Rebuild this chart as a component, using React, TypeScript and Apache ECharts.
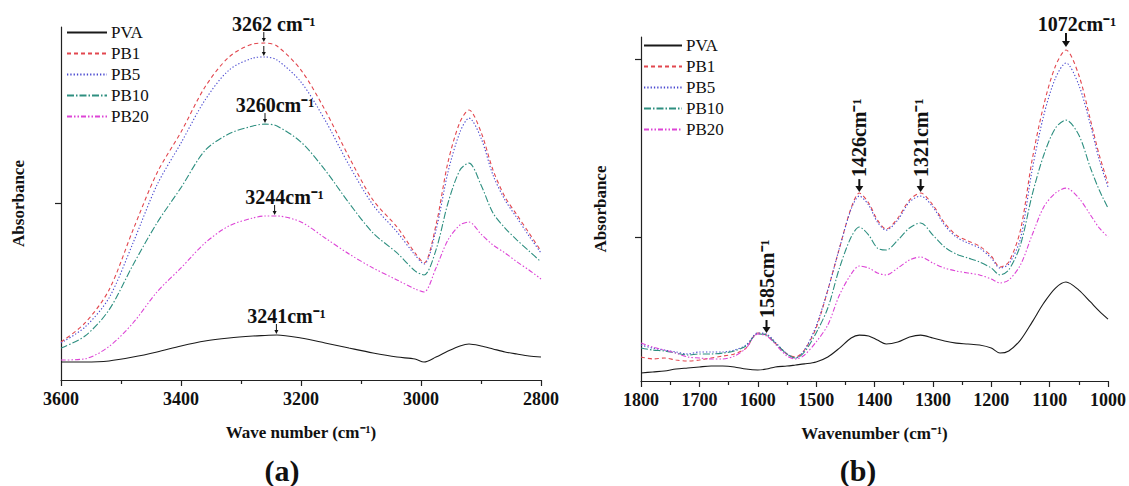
import React, { useEffect, useRef } from 'react';
import * as echarts from 'echarts';

const FONT = '"Liberation Serif", "Times New Roman", serif';

// ---------- data: panel (a) ----------
const seriesNames = ['PVA', 'PB1', 'PB5', 'PB10', 'PB20'];
const xTicksA = [3600, 3400, 3200, 3000, 2800];
const xTicksB = [1800, 1700, 1600, 1500, 1400, 1300, 1200, 1100, 1000];

const wavenumberA = [3600, 3560, 3520, 3480, 3440, 3400, 3360, 3320, 3280, 3260, 3240, 3200, 3160, 3120, 3080, 3040, 3010, 2995, 2975, 2955, 2935, 2920, 2900, 2880, 2860, 2840, 2820, 2800];
const pvaA = [0.102, 0.102, 0.108, 0.13, 0.159, 0.193, 0.221, 0.238, 0.249, 0.252, 0.255, 0.238, 0.21, 0.181, 0.153, 0.13, 0.119, 0.102, 0.13, 0.164, 0.193, 0.204, 0.193, 0.176, 0.159, 0.147, 0.136, 0.13];
const pb1A = [0.215, 0.323, 0.51, 0.85, 1.173, 1.405, 1.66, 1.83, 1.904, 1.909, 1.892, 1.756, 1.53, 1.263, 1.02, 0.867, 0.72, 0.663, 0.878, 1.235, 1.462, 1.53, 1.405, 1.19, 1.037, 0.935, 0.833, 0.731];
const pb5A = [0.21, 0.30, 0.465, 0.776, 1.105, 1.343, 1.586, 1.756, 1.824, 1.83, 1.813, 1.688, 1.473, 1.218, 0.992, 0.839, 0.708, 0.657, 0.85, 1.178, 1.405, 1.484, 1.371, 1.161, 1.02, 0.918, 0.816, 0.72];
const pb10A = [0.181, 0.249, 0.397, 0.652, 0.89, 1.09, 1.3, 1.395, 1.439, 1.45, 1.439, 1.348, 1.19, 1.003, 0.833, 0.72, 0.618, 0.595, 0.737, 1.003, 1.19, 1.229, 1.105, 0.946, 0.861, 0.793, 0.731, 0.669];
const pb20A = [0.113, 0.12, 0.19, 0.323, 0.499, 0.635, 0.776, 0.873, 0.918, 0.929, 0.929, 0.895, 0.805, 0.714, 0.635, 0.567, 0.516, 0.499, 0.635, 0.793, 0.878, 0.895, 0.827, 0.765, 0.72, 0.669, 0.623, 0.572];

// ---------- data: panel (b) ----------
const wavenumberB = [1800, 1780, 1760, 1740, 1720, 1700, 1680, 1660, 1640, 1620, 1600, 1585, 1570, 1550, 1535, 1520, 1500, 1480, 1460, 1440, 1426, 1410, 1395, 1380, 1360, 1340, 1321, 1300, 1280, 1260, 1240, 1220, 1200, 1185, 1170, 1150, 1130, 1110, 1090, 1072, 1050, 1030, 1015, 1000];
const pvaB = [0.235, 0.241, 0.246, 0.257, 0.263, 0.269, 0.274, 0.274, 0.269, 0.257, 0.252, 0.257, 0.269, 0.274, 0.28, 0.286, 0.297, 0.325, 0.375, 0.432, 0.448, 0.443, 0.42, 0.398, 0.409, 0.437, 0.448, 0.432, 0.415, 0.403, 0.398, 0.392, 0.375, 0.347, 0.359, 0.42, 0.521, 0.628, 0.712, 0.746, 0.701, 0.634, 0.583, 0.538];
const pb1B = [0.325, 0.314, 0.319, 0.308, 0.302, 0.308, 0.319, 0.33, 0.342, 0.375, 0.46, 0.448, 0.403, 0.342, 0.325, 0.364, 0.488, 0.701, 0.937, 1.162, 1.246, 1.19, 1.095, 1.044, 1.106, 1.207, 1.246, 1.179, 1.078, 1.01, 0.977, 0.948, 0.892, 0.83, 0.859, 1.038, 1.432, 1.741, 1.96, 2.05, 1.909, 1.656, 1.46, 1.302];
const pb5B = [0.392, 0.375, 0.364, 0.353, 0.342, 0.353, 0.353, 0.353, 0.364, 0.392, 0.46, 0.454, 0.409, 0.342, 0.319, 0.364, 0.499, 0.701, 0.937, 1.156, 1.229, 1.179, 1.083, 1.038, 1.095, 1.196, 1.229, 1.168, 1.066, 0.999, 0.965, 0.937, 0.881, 0.825, 0.847, 0.99, 1.375, 1.684, 1.892, 1.977, 1.853, 1.628, 1.432, 1.28];
const pb10B = [0.375, 0.364, 0.359, 0.347, 0.336, 0.342, 0.342, 0.347, 0.359, 0.387, 0.454, 0.448, 0.403, 0.342, 0.319, 0.353, 0.46, 0.6, 0.825, 0.999, 1.055, 1.01, 0.937, 0.926, 0.982, 1.05, 1.078, 1.01, 0.943, 0.903, 0.881, 0.859, 0.825, 0.786, 0.814, 0.954, 1.235, 1.46, 1.611, 1.656, 1.572, 1.387, 1.263, 1.162];
const pb20B = [0.403, 0.381, 0.364, 0.347, 0.325, 0.319, 0.314, 0.314, 0.33, 0.375, 0.454, 0.443, 0.398, 0.33, 0.314, 0.336, 0.409, 0.505, 0.673, 0.791, 0.836, 0.825, 0.797, 0.786, 0.825, 0.87, 0.887, 0.853, 0.825, 0.808, 0.797, 0.786, 0.763, 0.741, 0.757, 0.842, 1.01, 1.168, 1.246, 1.274, 1.218, 1.123, 1.05, 0.999];

// peak annotations
const peaksA = [
  { label: '3262 cm⁻¹', wn: 3262, targets: ['PB1', 'PB5'] },
  { label: '3260cm⁻¹', wn: 3260, targets: ['PB10'] },
  { label: '3244cm⁻¹', wn: 3244, targets: ['PB20'] },
  { label: '3241cm⁻¹', wn: 3241, targets: ['PVA'] },
];
const peaksB = [
  { label: '1072cm⁻¹', wn: 1072, targets: ['PB1'], vertical: false },
  { label: '1426cm⁻¹', wn: 1426, targets: ['PB1'], vertical: true },
  { label: '1321cm⁻¹', wn: 1321, targets: ['PB1'], vertical: true },
  { label: '1585cm⁻¹', wn: 1585, targets: ['PB5'], vertical: true },
];

// ---------- styles ----------
const lineStyles: Record<string, any> = {
  PVA: { color: '#1a1a1a', type: 'solid' },
  PB1: { color: '#e2474f', type: [4, 3] },
  PB5: { color: '#4848d0', type: [1.3, 2] },
  PB10: { color: '#2e8f80', type: [7, 2, 1.5, 2] },
  PB20: { color: '#dd44d6', type: [5, 2, 1.5, 2, 1.5, 2] },
};

const dataA: Record<string, number[]> = { PVA: pvaA, PB1: pb1A, PB5: pb5A, PB10: pb10A, PB20: pb20A };
const dataB: Record<string, number[]> = { PVA: pvaB, PB1: pb1B, PB5: pb5B, PB10: pb10B, PB20: pb20B };

const AXIS_COLOR = '#222';
const TEXT_COLOR = '#111';

function makeSeries(gridIndex: number, wn: number[], data: Record<string, number[]>) {
  return seriesNames.map((name) => ({
    name,
    type: 'line',
    xAxisIndex: gridIndex,
    yAxisIndex: gridIndex,
    data: wn.map((w, i) => [w, data[name][i]]),
    symbol: 'none',
    showSymbol: false,
    smooth: 0.3,
    lineStyle: { color: lineStyles[name].color, type: lineStyles[name].type, width: 1.1 },
    itemStyle: { color: lineStyles[name].color },
    emphasis: { disabled: true },
  }));
}

function xAxisFor(gridIndex: number, ticks: number[], name: string) {
  const min = Math.min(...ticks);
  const max = Math.max(...ticks);
  return {
    gridIndex,
    type: 'value',
    inverse: true,
    min,
    max,
    interval: Math.abs(ticks[0] - ticks[1]),
    name,
    nameLocation: 'middle',
    nameGap: 44,
    nameTextStyle: { fontFamily: FONT, fontSize: 17, fontWeight: 'bold', color: TEXT_COLOR },
    axisLine: { show: true, onZero: false, lineStyle: { color: AXIS_COLOR, width: 1.2 } },
    axisTick: { show: true, inside: false, length: 6, lineStyle: { color: AXIS_COLOR, width: 1.2 } },
    minorTick: { show: true, splitNumber: 2, length: 4, lineStyle: { color: AXIS_COLOR, width: 1.2 } },
    axisLabel: {
      fontFamily: FONT,
      fontSize: 18,
      fontWeight: 'bold',
      color: TEXT_COLOR,
      margin: 10,
      formatter: (v: number) => String(v),
    },
    splitLine: { show: false },
    minorSplitLine: { show: false },
  };
}

function yAxisFor(gridIndex: number, min: number, max: number, ticks: number[], nameGap: number) {
  return {
    gridIndex,
    type: 'value',
    min,
    max,
    name: 'Absorbance',
    nameLocation: 'middle',
    nameGap,
    nameTextStyle: { fontFamily: FONT, fontSize: 17, fontWeight: 'bold', color: TEXT_COLOR },
    axisLine: { show: true, onZero: false, lineStyle: { color: AXIS_COLOR, width: 1.2 } },
    axisTick: { show: true, inside: false, length: 6, customValues: ticks, lineStyle: { color: AXIS_COLOR, width: 1.2 } },
    axisLabel: { show: false },
    splitLine: { show: false },
  };
}

function legendFor(left: number, top: number, itemWidth: number) {
  return {
    data: seriesNames,
    orient: 'vertical',
    left,
    top,
    padding: 0,
    itemWidth,
    itemHeight: 14,
    itemGap: 4,
    selectedMode: false,
    itemStyle: { opacity: 0, borderWidth: 0 },
    textStyle: { fontFamily: FONT, fontSize: 17, color: TEXT_COLOR, padding: [0, 0, 0, -1] },
  };
}

function arrow(x: number, y1: number, y2: number, width: number, headW: number, headH: number) {
  return [
    { type: 'line', silent: true, shape: { x1: x, y1, x2: x, y2: y2 - headH + 0.5 }, style: { stroke: TEXT_COLOR, lineWidth: width } },
    { type: 'polygon', silent: true, shape: { points: [[x - headW / 2, y2 - headH], [x + headW / 2, y2 - headH], [x, y2]] }, style: { fill: TEXT_COLOR } },
  ];
}

function nearestIndex(arr: number[], v: number) {
  let best = 0;
  arr.forEach((w, i) => {
    if (Math.abs(w - v) < Math.abs(arr[best] - v)) best = i;
  });
  return best;
}

function buildGraphics(chart: any) {
  const els: any[] = [];
  // panel (a) annotations
  peaksA.forEach((p) => {
    const idx = nearestIndex(wavenumberA, p.wn);
    let first: number[] | null = null;
    p.targets.forEach((t) => {
      const pt = chart.convertToPixel({ gridIndex: 0 }, [p.wn, dataA[t][idx]]);
      if (!first) first = pt;
      els.push(...arrow(pt[0], pt[1] - 11, pt[1] - 1, 1, 4, 4));
    });
    if (first) {
      els.push({
        type: 'text',
        silent: true,
        x: first[0] + 10,
        y: first[1] - 19,
        style: { text: p.label, fontFamily: FONT, fontSize: 20, fontWeight: 'bold', fill: TEXT_COLOR, align: 'center', verticalAlign: 'middle' },
      });
    }
  });
  // panel (b) annotations
  peaksB.forEach((p) => {
    const idx = nearestIndex(wavenumberB, p.wn);
    const t = p.targets[0];
    const pt = chart.convertToPixel({ gridIndex: 1 }, [p.wn, dataB[t][idx]]);
    if (p.vertical) {
      els.push(...arrow(pt[0], pt[1] - 14, pt[1] - 1, 2, 8, 6));
      els.push({
        type: 'text',
        silent: true,
        x: pt[0],
        y: pt[1] - 16,
        rotation: Math.PI / 2,
        style: { text: p.label, fontFamily: FONT, fontSize: 20, fontWeight: 'bold', fill: TEXT_COLOR, align: 'left', verticalAlign: 'middle' },
      });
    } else {
      els.push(...arrow(pt[0], pt[1] - 17, pt[1] - 3, 2, 8, 6));
      els.push({
        type: 'text',
        silent: true,
        x: pt[0] + 11,
        y: pt[1] - 26,
        style: { text: p.label, fontFamily: FONT, fontSize: 20, fontWeight: 'bold', fill: TEXT_COLOR, align: 'center', verticalAlign: 'middle' },
      });
    }
  });
  // panel captions
  els.push({ type: 'text', silent: true, x: 282, y: 470, style: { text: '(a)', fontFamily: FONT, fontSize: 30, fontWeight: 'bold', fill: TEXT_COLOR, align: 'center', verticalAlign: 'middle' } });
  els.push({ type: 'text', silent: true, x: 858, y: 470, style: { text: '(b)', fontFamily: FONT, fontSize: 30, fontWeight: 'bold', fill: TEXT_COLOR, align: 'center', verticalAlign: 'middle' } });
  return els;
}

export default function App() {
  const ref = useRef<HTMLDivElement>(null);

  useEffect(() => {
    document.body.style.margin = '0';
    if (!ref.current) return;
    const chart = echarts.init(ref.current, undefined, { renderer: 'svg' });
    const option: any = {
      animation: false,
      backgroundColor: '#ffffff',
      textStyle: { fontFamily: FONT },
      grid: [
        { left: 61, right: 588, top: 27, bottom: 106 },
        { left: 641, right: 18, top: 37, bottom: 105 },
      ],
      xAxis: [xAxisFor(0, xTicksA, 'Wave number (cm⁻¹)'), xAxisFor(1, xTicksB, 'Wavenumber (cm⁻¹)')],
      yAxis: [yAxisFor(0, 0, 2, [1], 34), yAxisFor(1, 0.19, 2.123, [1, 2], 32)],
      legend: [legendFor(66, 24, 40), legendFor(643, 37, 38)],
      tooltip: { show: false },
      series: [...makeSeries(0, wavenumberA, dataA), ...makeSeries(1, wavenumberB, dataB)],
    };
    chart.setOption(option);
    chart.setOption({ graphic: buildGraphics(chart) });
    return () => chart.dispose();
  }, []);

  return (
    <div style={{ position: 'fixed', left: 0, top: 0, width: 1129, height: 486, background: '#fff' }}>
      <div ref={ref} style={{ width: 1129, height: 486 }} />
    </div>
  );
}
